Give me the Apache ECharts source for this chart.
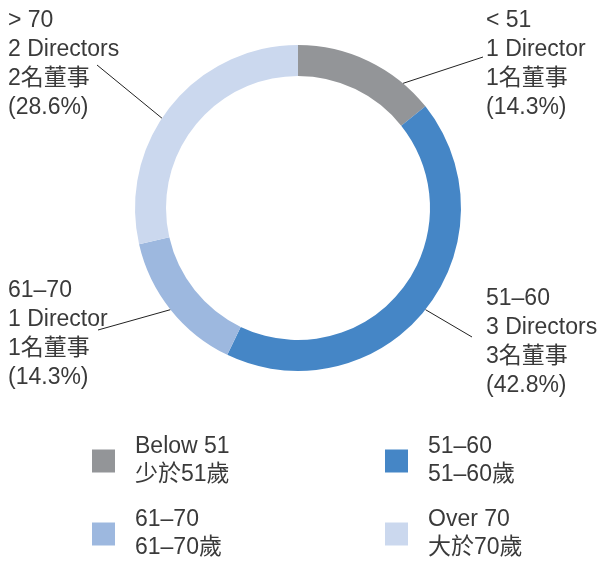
<!DOCTYPE html>
<html>
<head>
<meta charset="utf-8">
<script src="https://cdn.jsdelivr.net/npm/echarts@6/dist/echarts.min.js"></script>
<style>
html,body{margin:0;padding:0;background:#fff;}
#chart{width:600px;height:562px;}
</style>
</head>
<body>
<div id="chart"></div>
<script>
// ---- data ----
var categories = ['Below 51', '51\u201360', '61\u201370', 'Over 70'];
var categoriesZh = ['\u5c11\u65bc51\u6b72', '51\u201360\u6b72', '61\u201370\u6b72', '\u5927\u65bc70\u6b72'];
var sliceLabels = ['< 51', '51\u201360', '61\u201370', '> 70'];
var directorCounts = [1, 3, 1, 2];
var percentLabels = ['14.3%', '42.8%', '14.3%', '28.6%'];
var colors = ['#939598', '#4586c6', '#9db8df', '#cbd8ee'];

// ---- layout (label placement, not data) ----
var CENTER = [298, 208];
var RADII = [132, 163];
var labelX = [486, 486, 8, 8];
var labelY = [6, 284, 276, 6];
var lineEndDX = [-3, -14, 90, 89];
var lineEndDY = [51, 53, 54, 59];
var lineAnchorFrac = [0.78, 0.5, 0.5, 0.45]; // where along each slice the leader starts

var FONT = "'Liberation Sans', 'Noto Sans CJK TC', sans-serif";
var TEXT_COLOR = '#3a3a3a';

var pieData = categories.map(function (c, i) {
  return { name: c, value: directorCounts[i], itemStyle: { color: colors[i] } };
});
var total = directorCounts.reduce(function (a, b) { return a + b; }, 0);

function anchorPoint(i) {
  var before = 0;
  for (var k = 0; k < i; k++) before += directorCounts[k];
  var frac = (before + directorCounts[i] * lineAnchorFrac[i]) / total;
  var ang = frac * 2 * Math.PI; // clockwise from 12 o'clock
  return [CENTER[0] + RADII[1] * Math.sin(ang), CENTER[1] - RADII[1] * Math.cos(ang)];
}

function labelText(i) {
  var n = directorCounts[i];
  return sliceLabels[i] + '\n' + n + (n === 1 ? ' Director' : ' Directors') + '\n' +
    n + '\u540d\u8463\u4e8b' + '\n(' + percentLabels[i] + ')';
}

var legendText = {};
categories.forEach(function (c, i) { legendText[c] = c + '\n' + categoriesZh[i]; });

function makeLegend(names, left) {
  return {
    data: names,
    orient: 'vertical',
    left: left,
    top: 433,
    padding: 0,
    itemWidth: 23,
    itemHeight: 23,
    itemGap: 17,
    icon: 'rect',
    selectedMode: false,
    formatter: function (name) { return legendText[name]; },
    textStyle: {
      fontFamily: FONT,
      fontSize: 23,
      lineHeight: 28,
      color: TEXT_COLOR,
      padding: [0, 0, 0, 15]
    }
  };
}

var chart = echarts.init(document.getElementById('chart'), null, { renderer: 'canvas' });
chart.setOption({
  backgroundColor: '#ffffff',
  animation: false,
  legend: [
    makeLegend([categories[0], categories[2]], 92),
    makeLegend([categories[1], categories[3]], 385)
  ],
  series: [{
    type: 'pie',
    center: CENTER,
    radius: RADII,
    startAngle: 90,
    clockwise: true,
    avoidLabelOverlap: false,
    silent: true,
    data: pieData,
    label: {
      show: true,
      position: 'outside',
      formatter: function (p) { return labelText(p.dataIndex); },
      fontFamily: FONT,
      fontSize: 23,
      lineHeight: 29,
      color: TEXT_COLOR,
      align: 'left'
    },
    labelLine: {
      show: true,
      length: 10,
      length2: 10,
      lineStyle: { color: '#222', width: 1 }
    },
    labelLayout: function (params) {
      var i = params.dataIndex;
      return {
        x: labelX[i],
        y: labelY[i],
        align: 'left',
        verticalAlign: 'top',
        labelLinePoints: [anchorPoint(i), [labelX[i] + lineEndDX[i], labelY[i] + lineEndDY[i]]]
      };
    }
  }]
});
</script>
</body>
</html>
